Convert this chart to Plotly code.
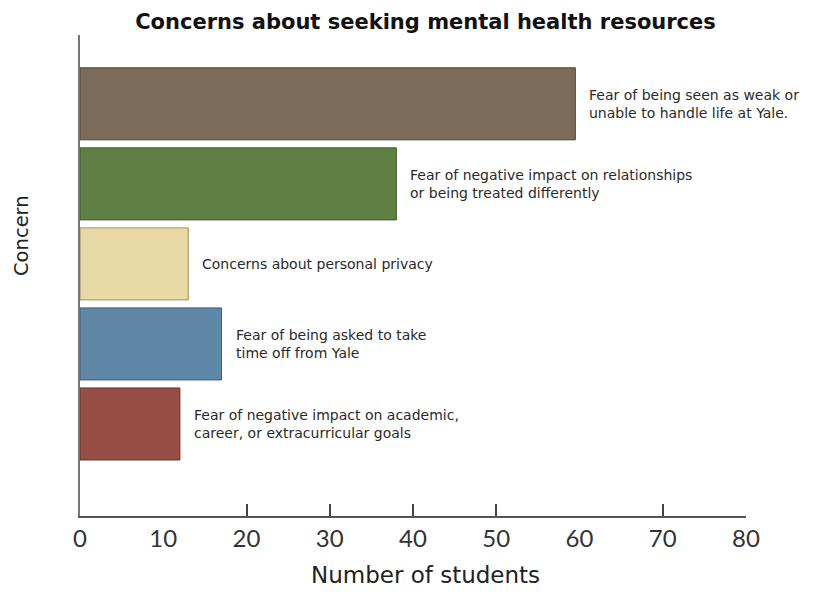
import plotly.graph_objects as go

# Data (top to bottom as shown)
concerns = [
    "Fear of being seen as weak or<br>unable to handle life at Yale.",
    "Fear of negative impact on relationships<br>or being treated differently",
    "Concerns about personal privacy",
    "Fear of being asked to take<br>time off from Yale",
    "Fear of negative impact on academic,<br>career, or extracurricular goals",
]
students = [59.5, 38, 13, 17, 12]
colors = ["#7D6B5A", "#5F8045", "#E8D9A7", "#5F87A6", "#974F45"]
edge_colors = ["#4E4236", "#3F5A2C", "#9C8F60", "#3E5F78", "#6A332C"]
x_tick_labels = [0, 10, 20, 30, 40, 50, 60, 70, 80]
x_tick_marks = [20, 30, 40, 50, 70, 80]

cats = [f"c{i}" for i in range(len(concerns))]

ML, MR, MT, MB = 72, 92, 27, 84
W, H = 830, 592
OFF = 8  # page body offset
plot_w = W - ML - MR
plot_h = H - MT - MB


def px_to_paper(px, py):
    return (px - OFF - ML) / plot_w, 1 - (py - OFF - MT) / plot_h


fig = go.Figure()
fig.add_trace(go.Bar(
    x=students, y=cats, orientation="h",
    marker=dict(color=colors, line=dict(color=edge_colors, width=1)),
    width=0.9, hoverinfo="skip", showlegend=False,
))
# invisible trace to activate tick-mark overlay axis
fig.add_trace(go.Scatter(x=[0, 80], y=[cats[0], cats[0]], xaxis="x2", mode="markers",
                         marker=dict(opacity=0), showlegend=False, hoverinfo="skip"))

for c, v, label in zip(cats, students, concerns):
    fig.add_annotation(x=v, y=c, xref="x", yref="y", text=label, showarrow=False,
                       xanchor="left", yanchor="middle", align="left", xshift=12,
                       font=dict(family="DejaVu Sans", size=14, color="#2a2a2a"))

# axis titles
yx, yy = px_to_paper(22, 236)
fig.add_annotation(x=yx, xref="paper", y=yy, yref="paper", text="Concern", showarrow=False,
                   textangle=-90, xanchor="center", yanchor="middle",
                   font=dict(family="DejaVu Sans", size=19.5, color="#222"))
xx, xy = px_to_paper(426, 575)
fig.add_annotation(x=xx, xref="paper", y=xy, yref="paper", text="Number of students", showarrow=False,
                   xanchor="center", yanchor="middle",
                   font=dict(family="DejaVu Sans", size=23, color="#222"))

fig.update_layout(
    width=W, height=H,
    margin=dict(l=ML, r=MR, t=MT, b=MB),
    plot_bgcolor="white", paper_bgcolor="white",
    title=dict(text="<b>Concerns about seeking mental health resources</b>",
               x=0.503, xanchor="center", y=0.99, yanchor="top",
               font=dict(family="DejaVu Sans", size=21, color="#111")),
    xaxis=dict(range=[0, 80], tickvals=x_tick_labels, ticks="", showgrid=False, zeroline=False,
               showline=True, linecolor="#555", linewidth=2,
               tickfont=dict(family="Lato", size=24, color="#333")),
    xaxis2=dict(range=[0, 80], overlaying="x", anchor="y", side="bottom", tickvals=x_tick_marks,
                ticks="inside", ticklen=12, tickwidth=1.5, tickcolor="#444", showticklabels=False,
                showgrid=False, zeroline=False, showline=False),
    yaxis=dict(categoryorder="array", categoryarray=cats[::-1], range=[-1.15, 4.86],
               showticklabels=False, ticks="", showgrid=False, zeroline=False, automargin=False,
               showline=True, linecolor="#777", linewidth=2),
    bargap=0.1,
)

fig.write_html("out.html")
